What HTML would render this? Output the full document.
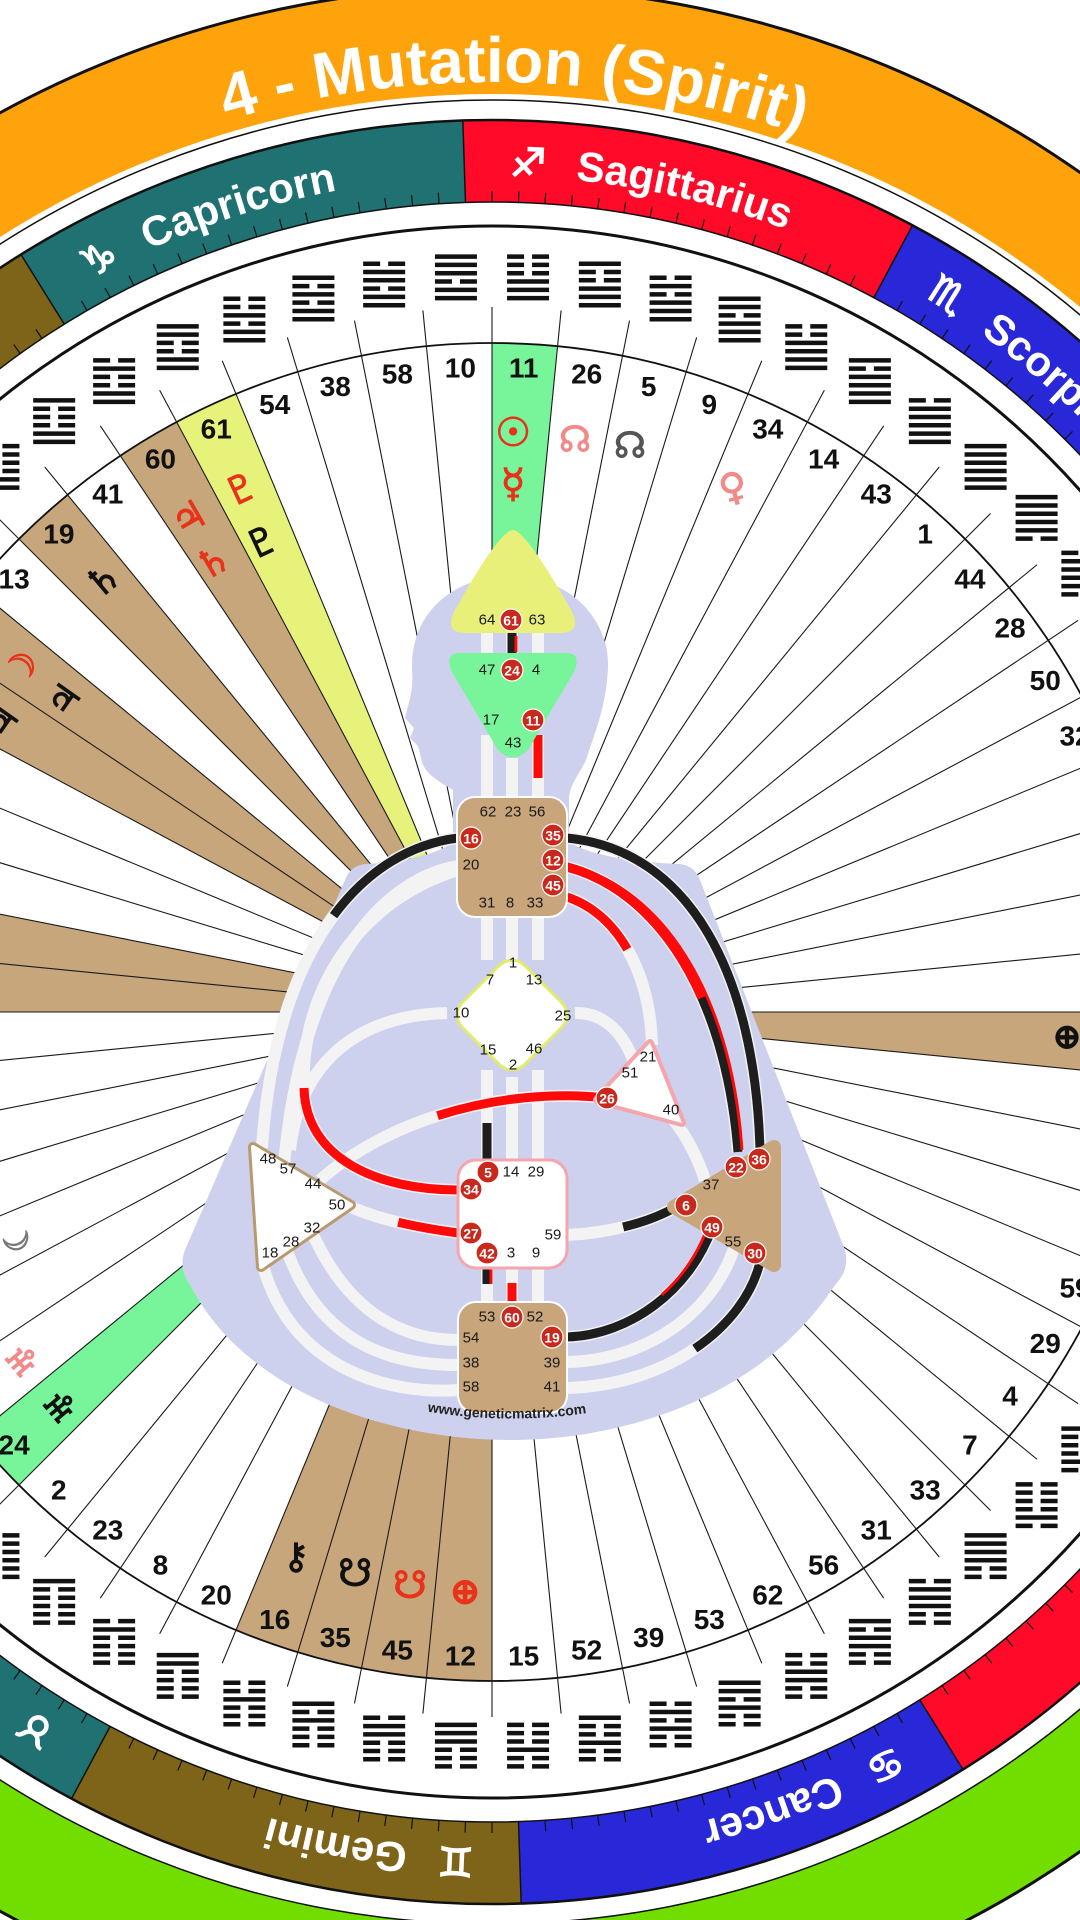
<!DOCTYPE html>
<html><head><meta charset="utf-8">
<style>
html,body{margin:0;padding:0;background:#fff;width:1080px;height:1920px;overflow:hidden}
svg{display:block;overflow:hidden}
text{font-family:"Liberation Sans","DejaVu Sans",sans-serif}
.sym{font-family:"DejaVu Sans",sans-serif}
.l{font-size:15px;fill:#1a1a1a;text-anchor:middle;dominant-baseline:central}
.rw{font-size:14px;fill:#fff;font-weight:bold;text-anchor:middle;dominant-baseline:central}
.tr{fill:none;stroke:#f3f3f4;stroke-width:12}
.bk{fill:none;stroke:#1e1e1e;stroke-width:9}
.rd{fill:none;stroke:#ff0a0a;stroke-width:9}
</style></head><body>
<div style="width:1080px;height:1920px;overflow:hidden;position:relative">
<svg id="s" width="1080" height="1920" viewBox="0 0 1080 1920" xmlns="http://www.w3.org/2000/svg">
<defs>
<path id="pOr" d="M -438,1012 A 930 930 0 1 1 1422,1012 A 930 930 0 1 1 -438,1012"/>
<path id="pZo" d="M -344,1012 A 836 836 0 1 1 1328,1012 A 836 836 0 1 1 -344,1012"/>
<path id="pGr" d="M -512,1012 A 1004 1004 0 0 0 1496,1012"/>
<path id="pWww" d="M398,1406 Q 507,1430 616,1408"/>
</defs>
<g id="wheel"></g>
<g id="texts">
<text font-size="64" font-weight="bold" fill="#fff"><textPath href="#pOr" startOffset="1483" text-anchor="middle">4 - Mutation (Spirit)</textPath></text>
<text font-size="64" font-weight="bold" fill="#fff"><textPath href="#pGr" startOffset="50%" text-anchor="middle">2 - Civilization (Form)</textPath></text>
</g>
<g id="body">
<path fill="#cdd1ee" d="M453,842 L453,790 C440,782 426,775 422,762 L418,746 L410,738 L414,728 L405,718 C408,705 414,690 412,670 C410,612 455,576 510,576 C570,576 610,620 608,668 C606,710 592,740 586,760 C579,775 569,785 569,800 L569,842 C590,855 630,862 680,864 Q695,866 700,880 L845,1250 Q850,1270 835,1285 C760,1400 620,1440 510,1440 C400,1440 250,1400 190,1285 Q178,1268 185,1250 L345,880 Q350,866 365,864 C400,862 435,856 453,842 Z"/>
<g>
<path class="tr" d="M487,633V655M512,633V655M538,633V655M487,735V800M512,758V800M538,735V800M487,915V960M512,915V960M538,915V960M487,1070V1162M512,1077V1162M538,1070V1162M487,1266V1304M512,1266V1304M538,1266V1304"/>
<path class="tr" d="M458,838 C360,850 275,950 262,1148"/>
<path class="tr" d="M458,866 C375,880 300,980 284,1165"/>
<path class="tr" d="M447,1013 C360,1015 300,1060 290,1150"/>
<path class="tr" d="M458,870 C360,900 300,990 304,1088 C306,1160 380,1190 458,1190"/>
<path class="tr" d="M607,1098 C520,1088 400,1110 320,1180"/>
<path class="tr" d="M458,1233 C420,1228 380,1220 351,1207"/>
<path class="tr" d="M567,1235 C610,1233 650,1222 676,1207"/>
<path class="tr" d="M575,1013 C605,1012 625,1035 635,1065"/>
<path class="tr" d="M567,897 C620,915 650,975 652,1045"/>
<path class="tr" d="M567,867 C655,890 725,990 738,1152"/>
<path class="tr" d="M567,838 C690,850 755,975 760,1150"/>
<path class="tr" d="M672,1118 C690,1140 700,1165 705,1180"/>
<path class="tr" d="M262,1262 C290,1370 390,1395 458,1390"/>
<path class="tr" d="M285,1245 C320,1350 400,1365 458,1365"/>
<path class="tr" d="M310,1228 C350,1320 410,1340 458,1340"/>
<path class="tr" d="M567,1337 C630,1335 690,1290 712,1228"/>
<path class="tr" d="M567,1362 C650,1360 715,1310 735,1245"/>
<path class="tr" d="M567,1388 C670,1385 745,1325 760,1262"/>
</g>
<g>
<path class="bk" d="M512,633V655"/><path d="M516,636V652" stroke="#ff0a0a" stroke-width="3"/>
<path class="rd" d="M538,735V778"/>
<path class="bk" pathLength="100" stroke-dasharray="38 200" d="M458,838 C360,850 275,950 262,1148"/>
<path class="bk" d="M567,838 C690,850 755,975 760,1150"/>
<path class="bk" d="M567,867 C655,890 725,990 738,1152"/>
<path class="rd" pathLength="100" stroke-dasharray="55 200" d="M567,867 C655,890 725,990 738,1152"/>
<path fill="none" stroke="#ff0a0a" stroke-width="3" d="M571,866 C660,888 731,990 742,1150"/>
<path class="rd" pathLength="100" stroke-dasharray="45 200" d="M567,897 C620,915 650,975 652,1045"/>
<path class="rd" d="M458,1190 C380,1190 306,1160 304,1088"/>
<path class="rd" pathLength="100" stroke-dasharray="56 200" d="M607,1098 C520,1088 400,1110 320,1180"/>
<path class="rd" pathLength="100" stroke-dasharray="55 200" d="M458,1233 C420,1228 380,1220 351,1207"/>
<path class="bk" pathLength="100" stroke-dasharray="50 200" d="M676,1207 C650,1222 610,1233 567,1235"/>
<path class="bk" d="M487,1123V1160"/>
<path class="bk" d="M487,1266V1284"/><path d="M491,1268V1284" stroke="#ff0a0a" stroke-width="3"/>
<path class="rd" d="M512,1283V1304"/>
<path class="bk" d="M567,1337 C630,1335 690,1290 712,1228"/>
<path fill="none" stroke="#ff0a0a" stroke-width="3" pathLength="100" stroke-dasharray="0 55 45" d="M569,1333 C630,1331 686,1288 708,1226"/>
<path class="bk" pathLength="100" stroke-dasharray="45 200" d="M760,1262 C745,1325 670,1385 567,1388"/>
</g>
<path fill="#e8f07a" d="M513,530 C525,530 560,590 572,612 Q582,633 560,633 L466,633 Q444,633 454,612 C466,590 500,530 513,530 Z"/>
<path fill="#78f59a" d="M460,653 L566,653 Q582,653 574,672 L528,750 Q513,765 498,750 L452,672 Q444,653 460,653 Z"/>
<rect x="457" y="797" width="110" height="120" rx="18" fill="#c8a57b" stroke="#fff" stroke-width="2"/>
<rect x="-44" y="-44" width="88" height="88" rx="18" transform="translate(512,1015) rotate(45)" fill="#fff" stroke="#e1ec6c" stroke-width="3"/>
<polygon points="650,1043 597,1100 682,1123" fill="#fff" stroke="#f5a6ad" stroke-width="8" stroke-linejoin="round"/>
<polygon points="650,1043 597,1100 682,1123" fill="#fff"/>
<rect x="458" y="1160" width="109" height="108" rx="18" fill="#fff" stroke="#f5a6ad" stroke-width="3"/>
<polygon points="253,1147 261,1267 351,1205" fill="#fff" stroke="#b99a6e" stroke-width="10" stroke-linejoin="round"/>
<polygon points="253,1147 261,1267 351,1205" fill="#fff" stroke="#fff" stroke-width="4" stroke-linejoin="round"/>
<polygon points="674,1207 774,1147 774,1265" fill="#c8a57b" stroke="#c8a57b" stroke-width="14" stroke-linejoin="round"/>
<rect x="458" y="1302" width="109" height="111" rx="18" fill="#c8a57b" stroke="#fff" stroke-width="2"/>
<g id="lbl"></g>
<text font-size="14" font-weight="bold" fill="#222"><textPath href="#pWww" startOffset="50%" text-anchor="middle">www.geneticmatrix.com</textPath></text>
</g>
</svg>
</div>
<script>
(function(){
var NS="http://www.w3.org/2000/svg";
var W=document.getElementById("wheel"),L=document.getElementById("lbl"),T=document.getElementById("texts");
var cx=492,cy=1012;
function pt(r,a){var t=a*Math.PI/180;return [cx+r*Math.sin(t),cy-r*Math.cos(t)];}
function el(tag,at,par,txt){var e=document.createElementNS(NS,tag);for(var k in at)e.setAttribute(k,at[k]);if(txt!==undefined)e.textContent=txt;(par||W).appendChild(e);return e;}
function ann(r1,r2,a1,a2,fill,stroke){var p1=pt(r2,a1),p2=pt(r2,a2),p3=pt(r1,a2),p4=pt(r1,a1);var lg=(a2-a1)>180?1:0;
 return el("path",{d:"M"+p1+"A"+r2+" "+r2+" 0 "+lg+" 1 "+p2+"L"+p3+"A"+r1+" "+r1+" 0 "+lg+" 0 "+p4+"Z",fill:fill,stroke:stroke||"none"});}
function wedge(r,a1,a2,fill){var p1=pt(r,a1),p2=pt(r,a2);return el("path",{d:"M"+cx+","+cy+"L"+p1+"A"+r+" "+r+" 0 0 1 "+p2+"Z",fill:fill});}
ann(918,1025,-90,90,"#ffa30c");ann(912,1025,90,270,"#72de00");
el("circle",{cx:cx,cy:cy,r:1025,fill:"none",stroke:"#111","stroke-width":3});
el("circle",{cx:cx,cy:cy,r:912,fill:"none",stroke:"#111","stroke-width":1.5});
var signs=[["Sagittarius","\u2650","#ff0a28"],["Scorpio","\u264F","#2828d8"],["Libra","\u264E","#7e6419"],["Virgo","\u264D","#207272"],["Leo","\u264C","#ff0a28"],["Cancer","\u264B","#2828d8"],["Gemini","\u264A","#7e6419"],["Taurus","\u2649","#207272"],["Aries","\u2648","#ff0a28"],["Pisces","\u2653","#2828d8"],["Aquarius","\u2652","#7e6419"],["Capricorn","\u2651","#207272"]];
for(var i=0;i<12;i++){var s=-1.875+30*i;ann(810,892,s,s+30,signs[i][2]);}
el("circle",{cx:cx,cy:cy,r:892,fill:"none",stroke:"#111","stroke-width":2.5});
el("circle",{cx:cx,cy:cy,r:810,fill:"none",stroke:"#111","stroke-width":1.5});
for(var k=0;k<192;k++){var a=-1.875+k*1.875;var q1=pt(810,a),q2=pt(k%16==0?892:821,a);
 el("line",{x1:q1[0],y1:q1[1],x2:q2[0],y2:q2[1],stroke:"#111","stroke-width":k%16==0?1.5:1.2});}
function off(th,r){return (((th-270)%360+360)%360)*Math.PI/180*r;}
for(var i=0;i<12;i++){var s=-1.875+30*i;
 var t1=el("text",{"font-size":40,"font-weight":"bold",fill:"#fff","class":"sym",stroke:"#fff","stroke-width":1.5},T);
 el("textPath",{href:"#pZo",startOffset:off(s+4.3,836),"text-anchor":"middle"},t1,signs[i][1]);
 var t2=el("text",{"font-size":42,"font-weight":"bold",fill:"#fff"},T);
 el("textPath",{href:"#pZo",startOffset:off(s+7.6,836)},t2,signs[i][0]);}
el("circle",{cx:cx,cy:cy,r:786,fill:"#fff",stroke:"#111","stroke-width":3});
var order=[11,26,5,9,34,14,43,1,44,28,50,32,57,48,18,46,6,47,64,40,59,29,4,7,33,31,56,62,53,39,52,15,12,45,35,16,20,8,23,2,24,27,3,42,51,21,17,25,36,22,63,37,55,30,49,13,19,41,60,61,54,38,58,10];
var tan="#c8a67c",col={11:"#78f59a",61:"#e6f27a",24:"#78f59a"};
[60,19,49,30,36,22,6,16,35,45,12].forEach(function(g){col[g]=tan;});
var G=5.625;
for(var i=0;i<64;i++){var g=order[i];if(col[g])wedge(669,i*G,(i+1)*G,col[g]);}
el("circle",{cx:cx,cy:cy,r:669,fill:"none",stroke:"#111","stroke-width":1.8});
for(var i=0;i<64;i++){var p=pt(705,i*G);el("line",{x1:cx,y1:cy,x2:p[0],y2:p[1],stroke:"#1a1a1a","stroke-width":1.1});}
var TRI={Q:[1,1,1],D:[1,1,0],L:[1,0,1],Z:[1,0,0],X:[0,1,1],K:[0,1,0],G:[0,0,1],N:[0,0,0]};
var KW="QQ NN ZK KG QK KQ KN NK QX DQ QN NQ LQ QL GN NZ ZD XG DN NX ZL LG NG ZN ZQ QG ZG XD KK LL GD XZ GQ QZ NL LN LX DL GK KZ DG ZX QD XQ ND XN KD XK LD XL ZZ GG GX DZ LZ GL XX DD KX DK DX GZ LK KL".split(" ");
for(var i=0;i<64;i++){var g=order[i];var c=(i+0.5)*G;var hp=pt(735,c);var lu=KW[g-1];var bits=TRI[lu[0]].concat(TRI[lu[1]]);
 var d="";for(var j=0;j<6;j++){var y=hp[1]+22.5-(j+1)*8.3+3.8;var x0=hp[0]-21;
  if(bits[j])d+="M"+x0+","+y+"h42v4.5h-42z";else d+="M"+x0+","+y+"h17v4.5h-17zM"+(x0+25)+","+y+"h17v4.5h-17z";}
 el("path",{d:d,fill:"#111"});
 var np=pt(645,c);el("text",{x:np[0],y:np[1],"font-size":28,"font-weight":"bold",fill:"#111","text-anchor":"middle","dominant-baseline":"central"},W,String(g));}
var sy=[["\u2609",513,433,"#e8321a",40,0],["\u263F",513,484,"#e8321a",40,0],["\u260A",575,440,"#f28a8a",36,0],["\u260A",630,446,"#555",36,0],["\u2640",733,487,"#f28a8a",38,-15],
["\u2647",241,489,"#e8321a",38,-25],["\u2647",262,542,"#111",38,-25],["\u2643",189,518,"#e8321a",38,-30],["\u2644",213,562,"#e8321a",38,-30],["\u2644",103,580,"#111",38,-40],
["\u263D",22,668,"#e8321a",36,-55],["\u2643",65,700,"#111",36,-55],["\u2643",3,722,"#111",36,-55],["\u263E",17,1237,"#777",34,-110],["\u2645",24,1359,"#f28a8a",36,-130],["\u2645",62,1405,"#111",36,-130],
["\u26B7",296,1557,"#111",36,0],["\u260B",355,1573,"#111",38,0],["\u260B",410,1585,"#e8321a",38,0],["\u2295",465,1592,"#e8321a",36,0],["\u2295",1067,1037,"#111",34,0]];
sy.forEach(function(s){el("text",{x:s[1],y:s[2],"font-size":s[4],"font-weight":"bold",fill:s[3],stroke:s[3],"stroke-width":1,"class":"sym","text-anchor":"middle","dominant-baseline":"central",transform:"rotate("+s[5]+" "+s[1]+" "+s[2]+")"},W,s[0]);});
var pl=[[64,487,620],[63,537,620],[47,487,670],[4,536,670],[17,491,720],[43,513,743],[62,488,812],[23,513,812],[56,537,812],[20,471,865],[31,487,903],[8,510,903],[33,535,903],[1,513,963],[7,490,980],[13,534,980],[10,461,1013],[25,563,1016],[15,488,1050],[46,534,1049],[2,513,1065],[21,648,1057],[51,630,1073],[40,671,1110],[14,511,1172],[29,536,1172],[59,553,1235],[3,511,1253],[9,536,1253],[48,268,1159],[57,288,1169],[44,313,1184],[50,337,1205],[32,312,1228],[28,291,1242],[18,270,1253],[37,711,1185],[55,733,1242],[53,487,1317],[52,535,1317],[54,471,1338],[38,471,1363],[39,552,1363],[58,471,1387],[41,552,1387]];
pl.forEach(function(p){el("text",{x:p[1],y:p[2],"class":"l"},L,String(p[0]));});
var rd=[[61,511,620],[24,512,670],[11,533,720],[16,471,838],[35,553,835],[12,553,860],[45,553,885],[26,607,1098],[5,488,1172],[34,471,1189],[27,471,1233],[42,487,1253],[36,759,1159],[22,736,1167],[6,686,1205],[49,712,1227],[30,755,1253],[60,512,1317],[19,552,1337]];
rd.forEach(function(p){el("circle",{cx:p[1],cy:p[2],r:11,fill:"#c9281c",stroke:"#fff","stroke-width":1.2},L);el("text",{x:p[1],y:p[2]+0.5,"class":"rw"},L,String(p[0]));});
})();
</script>
</body></html>
